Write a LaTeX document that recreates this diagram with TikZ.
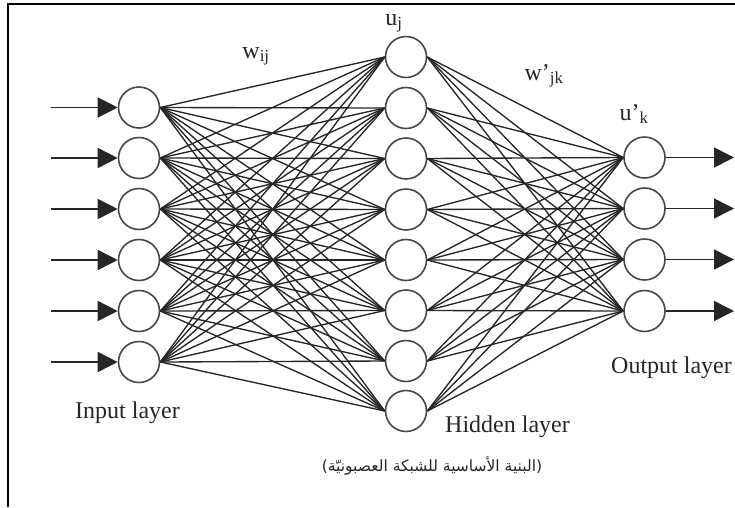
\documentclass[tikz,border=0pt]{standalone}
\usepackage{fontspec}
\setmainfont{Liberation Serif}
\newfontfamily\arabicfont[Script=Arabic]{DejaVu Sans}
\newfontfamily\plainsans{DejaVu Sans}
\TeXXeTstate=1
\usetikzlibrary{arrows.meta}
\definecolor{ink}{HTML}{262626}
\begin{document}
\begin{tikzpicture}[x=1pt,y=-1pt,
  neuron/.style={circle,draw=ink!85,line width=1.6pt,minimum size=41pt,inner sep=0pt,fill=white},
  wire/.style={draw=ink,line width=1.35pt},
  flow/.style={draw=ink,line width=1.6pt,-{Triangle[length=20pt,width=20pt]}},
  lbl/.style={font=\fontsize{24}{28}\selectfont,text=ink,inner sep=0pt}]
\useasboundingbox (0,0) rectangle (735,507);
% frame
\draw[line width=2.2pt,black] (8,507) -- (8,4) -- (736,4);
% input layer
\foreach \i/\y in {1/107.5,2/158,3/209,4/260,5/311,6/362}{
  \node[neuron] (in-\i) at (139,\y) {};
  \coordinate (src-\i) at (51,\y);
}
% hidden layer
\foreach \j/\y in {1/57,2/108,3/158.5,4/209.5,5/260,6/310.5,7/361,8/411}{
  \node[neuron] (hid-\j) at (406,\y) {};
}
% output layer
\foreach \k/\y in {1/157.5,2/208.5,3/259.5,4/311}{
  \node[neuron] (out-\k) at (644.5,\y) {};
  \coordinate (dst-\k) at (734,\y);
}
% connections
\foreach \i in {1,...,6}{
  \foreach \j in {1,...,8}{
    \draw[wire] (in-\i.east) -- (hid-\j.west);
  }
}
\foreach \j in {1,...,8}{
  \foreach \k in {1,...,4}{
    \draw[wire] (hid-\j.east) -- (out-\k.west);
  }
}
% input / output arrows
\foreach \i in {1,...,6}{ \draw[flow] (src-\i) -- (in-\i.west); }
\foreach \k in {1,...,4}{ \draw[flow] (out-\k.east) -- (dst-\k); }
% labels
\node[lbl,anchor=base] (uj) at (394,25) {u\textsubscript{j}};
\node[lbl,anchor=base] (wij) at (256,58) {w\textsubscript{ij}};
\node[lbl,anchor=base] (wjk) at (544,80) {w’\textsubscript{jk}};
\node[lbl,anchor=base] (uk) at (634,120) {u’\textsubscript{k}};
\node[lbl,anchor=base west] (inl) at (75,418) {Input layer};
\node[lbl,anchor=base west] (hidl) at (445,432) {Hidden layer};
\node[lbl,anchor=base west] (outl) at (611,373) {Output layer};
\node[inner sep=0pt,text=ink,font=\fontsize{15.5}{19}\selectfont] (cap) at (432,466)
  {{\plainsans(}{\arabicfont\beginR البنية الأساسية للشبكة العصبونيّة\endR}{\plainsans)}};
\end{tikzpicture}
\end{document}
